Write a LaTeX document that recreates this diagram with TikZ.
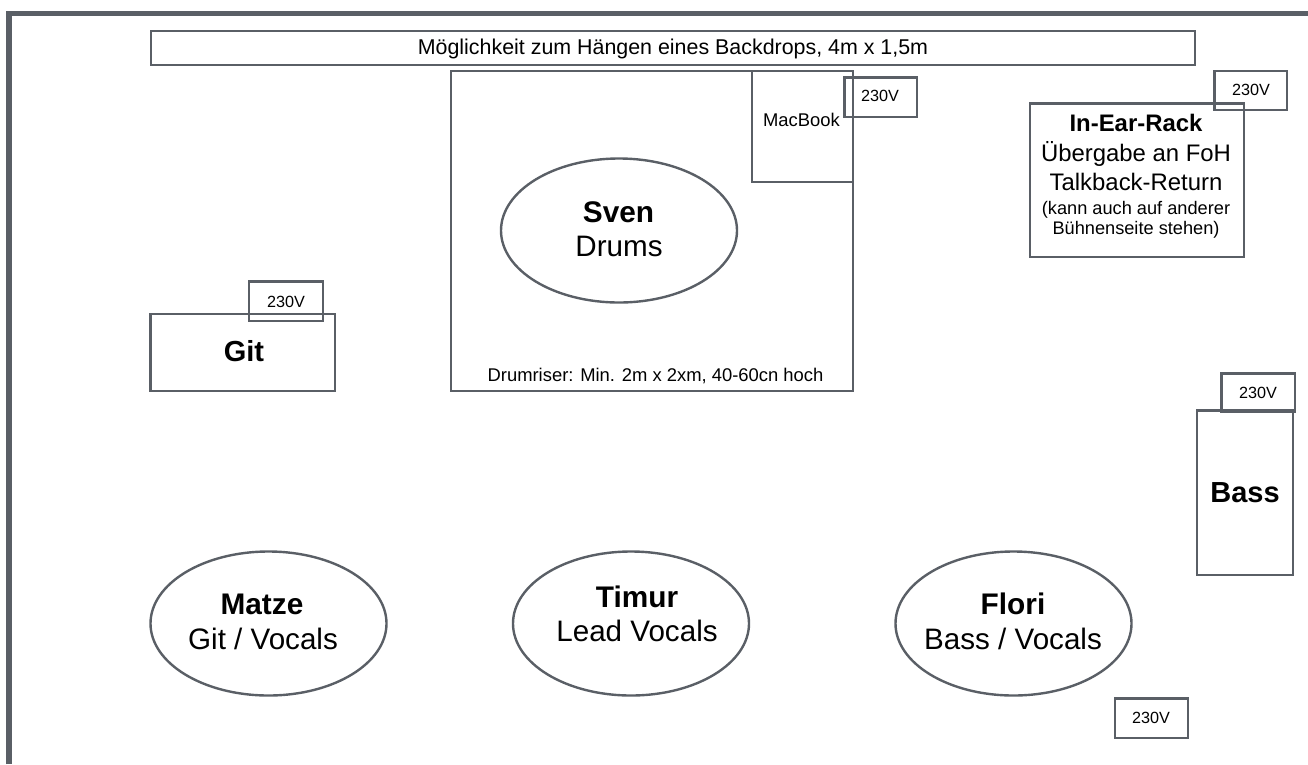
\documentclass[tikz,border=0pt]{standalone}
\usepackage{fontspec}
\setmainfont{Liberation Sans}
\usetikzlibrary{shapes.geometric}
\definecolor{edge}{HTML}{5A5F66}
\newcommand{\fs}[1]{\fontsize{#1}{#1}\selectfont}
\tikzset{
  x=1pt,y=-1pt,
  box/.style={draw=edge,line width=2.6pt,inner sep=0pt},
  txt/.style={inner sep=0pt,text=black,align=center,anchor=base},
  volt/.style={txt,font=\fs{16.2}},
  small/.style={txt,font=\fs{18.4}},
  note/.style={txt,font=\fs{18.2}},
  mid/.style={txt,font=\fs{23.9}},
  who/.style={txt,font=\fs{29.6}},
  whob/.style={txt,font=\fs{29.8}\bfseries},
  amp/.style={txt,font=\fs{29}\bfseries},
  frameline/.style={draw=edge,line width=5.6pt,line join=miter},
  oval/.style={draw=edge,line width=2.4pt}
}
\begin{document}
\begin{tikzpicture}
\useasboundingbox (0,0) rectangle (1308,764);
\coordinate (fa) at (9,764);
\coordinate (fb) at (9,13.5);
\coordinate (fc) at (1308,13.5);
\draw[frameline] (fa) -- (fb) -- (fc);
% backdrop
\draw[box] (151,31) rectangle (1195,65);
\node[txt,font=\fs{21.4}] (backdrop) at (673,54.5) {Möglichkeit zum Hängen eines Backdrops, 4m x 1,5m};
% riser
\draw[box] (451,71) rectangle (853,391);
\node[small] (riser) at (655.5,381) {Drumriser: Min. 2m x 2xm, 40-60cn hoch};
% macbook
\draw[box] (752,71) rectangle (853,182);
\node[small] (mac) at (801.5,126) {MacBook};
\draw[box] (844.5,77.5) rectangle (917,117);
\node[volt] (v1) at (880,101.5) {230V};
% in-ear
\draw[box] (1030,103.5) rectangle (1244,257);
\node[txt,font=\fs{23.9}\bfseries] (ie1) at (1136,131) {In-Ear-Rack};
\node[mid] (ie2) at (1136,161) {Übergabe an FoH};
\node[mid] (ie3) at (1136,190.5) {Talkback-Return};
\node[note] (ie4) at (1136,214) {(kann auch auf anderer};
\node[note] (ie5) at (1136,234) {Bühnenseite stehen)};
\draw[box] (1214.5,71) rectangle (1287,110);
\node[volt] (v2) at (1251,95) {230V};
% git
\draw[box] (150.5,314) rectangle (335,391);
\node[amp] (git) at (244,361.5) {Git};
\draw[box] (249,281.5) rectangle (323,321);
\node[volt] (v3) at (286,307) {230V};
% bass
\draw[box] (1197,410.5) rectangle (1293,575);
\node[amp] (bass) at (1245,502) {Bass};
\draw[box] (1221.5,373.5) rectangle (1295,412);
\node[volt] (v4) at (1258,398) {230V};
% floor
\draw[box] (1115,698.5) rectangle (1188,738);
\node[volt] (v5) at (1151,723) {230V};
% ellipses
\draw[oval] (619,230.5) ellipse [x radius=118,y radius=72];
\node[whob] (sven) at (618.5,222) {Sven};
\node[who] (drums) at (619,256) {Drums};
\draw[oval] (268.5,623.5) ellipse [x radius=118,y radius=72];
\node[whob] (matze) at (262,614) {Matze};
\node[who] (gv) at (263,649) {Git / Vocals};
\draw[oval] (631,623.5) ellipse [x radius=118,y radius=72];
\node[whob] (timur) at (637,607) {Timur};
\node[who] (lv) at (637,641) {Lead Vocals};
\draw[oval] (1013.5,623.5) ellipse [x radius=118,y radius=72];
\node[whob] (flori) at (1013,614) {Flori};
\node[who] (bv) at (1013,649) {Bass / Vocals};
\end{tikzpicture}
\end{document}
